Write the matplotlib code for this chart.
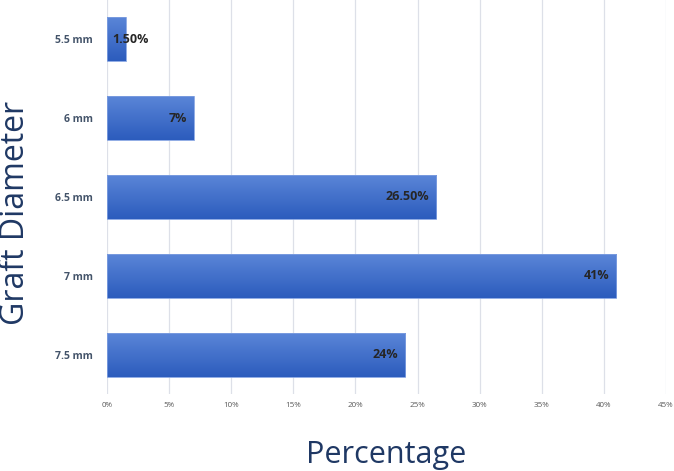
import numpy as np
import matplotlib
matplotlib.use("Agg")
import matplotlib.pyplot as plt
from matplotlib.patches import Rectangle

categories = ["5.5 mm", "6 mm", "6.5 mm", "7 mm", "7.5 mm"]
values = [1.5, 7, 26.5, 41, 24]
labels = ["1.50%", "7%", "26.50%", "41%", "24%"]
xticks = [0, 5, 10, 15, 20, 25, 30, 35, 40, 45]

plt.rcParams['font.family'] = ['Open Sans', 'DejaVu Sans']

fig = plt.figure(figsize=(6.74, 4.71), dpi=100)
ax = fig.add_axes([0.1588, 0.1635, 0.8294, 0.8365])

ypos = np.arange(len(categories))
h = 0.56
grad = np.linspace(0, 1, 100).reshape(-1, 1)
cmap = matplotlib.colors.LinearSegmentedColormap.from_list("g", ["#5b86d8", "#2c5cbd"])

for y, v, lab in zip(ypos, values, labels):
    r = Rectangle((0, y - h / 2), v, h, facecolor="none", edgecolor="#7f9fe0", linewidth=0.6, zorder=3)
    ax.add_patch(r)
    im = ax.imshow(grad, extent=(0, v, y + h / 2, y - h / 2), aspect="auto", cmap=cmap, zorder=2)
    im.set_clip_path(r)
    # small bars: label starts just inside the bar and runs past its end
    if v < 3:
        ax.annotate(lab, (0, y), xytext=(4, 0), textcoords="offset points",
                    ha="left", va="center", fontsize=9, fontweight="bold", color="#262626", zorder=4)
    else:
        ax.annotate(lab, (v, y), xytext=(-5, 0), textcoords="offset points",
                    ha="right", va="center", fontsize=9, fontweight="bold", color="#262626", zorder=4)

ax.set_xlim(0, 45)
ax.set_ylim(len(categories) - 0.5, -0.5)
ax.set_xticks(xticks)
ax.set_xticklabels([f"{t}%" for t in xticks], fontsize=5.8, color="#595959")
ax.set_yticks(ypos)
ax.set_yticklabels(categories, fontsize=7.5, fontweight="bold", color="#44546a")
ax.tick_params(length=0)
ax.tick_params(axis="y", pad=10)
ax.tick_params(axis="x", pad=6)
ax.grid(axis="x", color="#dde0e8", linewidth=0.9, zorder=0)
ax.set_axisbelow(True)
for s in ax.spines.values():
    s.set_visible(False)

ax.set_ylabel("Graft Diameter", fontsize=23, color="#1f3864", labelpad=12)
ax.yaxis.set_label_coords(-0.135, 0.46)
ax.set_xlabel("Percentage", fontsize=22, color="#1f3864", labelpad=22)

fig.savefig("out.png", dpi=100)
